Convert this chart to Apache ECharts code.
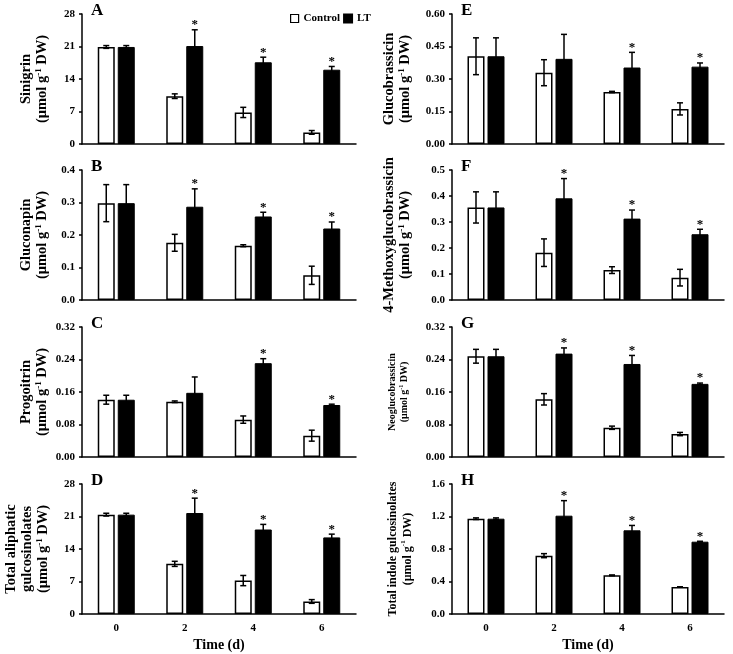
<!DOCTYPE html>
<html><head><meta charset="utf-8">
<script src="https://cdn.jsdelivr.net/npm/echarts@6/dist/echarts.min.js"></script>
<style>html,body{margin:0;padding:0;background:#fff}#c{width:733px;height:654px}</style>
</head><body><div id="c"></div>
<script>
// ---- data ----
const timeDays = ['0', '2', '4', '6'];
const seriesNames = ['Control', 'LT'];

const sinigrinControl = [20.9, 10.3, 6.8, 2.5];
const sinigrinControlErr = [0.3, 0.5, 1.1, 0.4];
const sinigrinLT = [20.9, 21.1, 17.6, 16.0];
const sinigrinLTErr = [0.3, 3.5, 1.1, 0.7];
const sinigrinSig = [0, 1, 1, 1];

const gluconapinControl = [0.298, 0.176, 0.167, 0.076];
const gluconapinControlErr = [0.057, 0.026, 0.003, 0.028];
const gluconapinLT = [0.298, 0.287, 0.257, 0.220];
const gluconapinLTErr = [0.057, 0.055, 0.013, 0.020];
const gluconapinSig = [0, 1, 1, 1];

const progoitrinControl = [0.141, 0.136, 0.092, 0.0525];
const progoitrinControlErr = [0.011, 0.002, 0.009, 0.0135];
const progoitrinLT = [0.141, 0.158, 0.231, 0.128];
const progoitrinLTErr = [0.011, 0.039, 0.011, 0.002];
const progoitrinSig = [0, 0, 1, 1];

const aliphaticControl = [21.4, 10.8, 7.2, 2.7];
const aliphaticControlErr = [0.3, 0.55, 1.1, 0.4];
const aliphaticLT = [21.4, 21.75, 18.2, 16.5];
const aliphaticLTErr = [0.3, 3.2, 1.1, 0.7];
const aliphaticSig = [0, 1, 1, 1];

const glucobrassicinControl = [0.405, 0.329, 0.240, 0.162];
const glucobrassicinControlErr = [0.085, 0.060, 0.003, 0.028];
const glucobrassicinLT = [0.405, 0.393, 0.353, 0.357];
const glucobrassicinLTErr = [0.085, 0.113, 0.070, 0.017];
const glucobrassicinSig = [0, 0, 1, 1];

const methoxyControl = [0.356, 0.182, 0.115, 0.086];
const methoxyControlErr = [0.060, 0.053, 0.013, 0.032];
const methoxyLT = [0.356, 0.391, 0.313, 0.253];
const methoxyLTErr = [0.060, 0.076, 0.033, 0.019];
const methoxySig = [0, 1, 1, 1];

const neoControl = [0.248, 0.142, 0.072, 0.0565];
const neoControlErr = [0.017, 0.014, 0.004, 0.004];
const neoLT = [0.248, 0.2545, 0.229, 0.180];
const neoLTErr = [0.017, 0.014, 0.021, 0.002];
const neoSig = [0, 1, 1, 1];

const indoleControl = [1.173, 0.718, 0.476, 0.332];
const indoleControlErr = [0.010, 0.025, 0.005, 0.003];
const indoleLT = [1.173, 1.210, 1.030, 0.890];
const indoleLTErr = [0.010, 0.185, 0.060, 0.005];
const indoleSig = [0, 1, 1, 1];

const unitLine = '(μmol g{sup|-1} DW)';

// ---- layout / style ----
const FONT = '"Liberation Serif","Times New Roman",serif';
const BAR_W = 17, BAR_GAP = 3;
const OFF = (BAR_W + BAR_GAP) / 2;
const rowTops = [14, 170, 327, 484];
const rowH = 130;
const colLeft = [82, 452];
const colW = [274, 272];

const panels = [
  {letter: 'A', title: 'Sinigrin\n' + unitLine, col: 0, row: 0, max: 28, interval: 7, dec: 0, gap: 32,
   ctrl: sinigrinControl, ctrlErr: sinigrinControlErr, lt: sinigrinLT, ltErr: sinigrinLTErr, sig: sinigrinSig},
  {letter: 'B', title: 'Gluconapin\n' + unitLine, col: 0, row: 1, max: 0.4, interval: 0.1, dec: 1, gap: 32,
   ctrl: gluconapinControl, ctrlErr: gluconapinControlErr, lt: gluconapinLT, ltErr: gluconapinLTErr, sig: gluconapinSig},
  {letter: 'C', title: 'Progoitrin\n' + unitLine, col: 0, row: 2, max: 0.32, interval: 0.08, dec: 2, gap: 32,
   ctrl: progoitrinControl, ctrlErr: progoitrinControlErr, lt: progoitrinLT, ltErr: progoitrinLTErr, sig: progoitrinSig},
  {letter: 'D', title: 'Total aliphatic\ngulcosinolates\n' + unitLine, col: 0, row: 3, max: 28, interval: 7, dec: 0, gap: 31,
   ctrl: aliphaticControl, ctrlErr: aliphaticControlErr, lt: aliphaticLT, ltErr: aliphaticLTErr, sig: aliphaticSig},
  {letter: 'E', title: 'Glucobrassicin\n' + unitLine, col: 1, row: 0, max: 0.6, interval: 0.15, dec: 2, gap: 39,
   ctrl: glucobrassicinControl, ctrlErr: glucobrassicinControlErr, lt: glucobrassicinLT, ltErr: glucobrassicinLTErr, sig: glucobrassicinSig},
  {letter: 'F', title: '4-Methoxyglucobrassicin\n' + unitLine, col: 1, row: 1, max: 0.5, interval: 0.1, dec: 1, gap: 39,
   ctrl: methoxyControl, ctrlErr: methoxyControlErr, lt: methoxyLT, ltErr: methoxyLTErr, sig: methoxySig},
  {letter: 'G', title: 'Neoglucobrassicin\n' + unitLine, col: 1, row: 2, max: 0.32, interval: 0.08, dec: 2, gap: 42, size: 10, lh: 12,
   ctrl: neoControl, ctrlErr: neoControlErr, lt: neoLT, ltErr: neoLTErr, sig: neoSig},
  {letter: 'H', title: 'Total indole gulcosinolates\n' + unitLine, col: 1, row: 3, max: 1.6, interval: 0.4, dec: 1, gap: 37, size: 12, lh: 15,
   ctrl: indoleControl, ctrlErr: indoleControlErr, lt: indoleLT, ltErr: indoleLTErr, sig: indoleSig}
];

function renderErr(params, api) {
  const k = api.value(0), m = api.value(1), e = api.value(2), s = api.value(3);
  const hi = api.coord([k, m + e]), lo = api.coord([k, m - e]);
  const x = hi[0] + s * OFF;
  const cap = 3;
  const st = {stroke: '#000', lineWidth: 1.5};
  return {type: 'group', children: [
    {type: 'line', shape: {x1: x, y1: hi[1], x2: x, y2: lo[1]}, style: st},
    {type: 'line', shape: {x1: x - cap, y1: hi[1], x2: x + cap, y2: hi[1]}, style: st},
    {type: 'line', shape: {x1: x - cap, y1: lo[1], x2: x + cap, y2: lo[1]}, style: st}
  ]};
}
function renderSig(params, api) {
  const p = api.coord([api.value(0), api.value(1)]);
  return {type: 'text', x: p[0] + OFF, y: p[1] - 5,
    style: {text: '*', font: 'bold 13px ' + FONT, fill: '#000', align: 'center', verticalAlign: 'middle'}};
}

const grid = [], xAxis = [], yAxis = [], series = [], graphic = [];
panels.forEach((p, i) => {
  const bottom = p.row === 3;
  const nameSize = p.size || 14.5;
  grid.push({left: colLeft[p.col], top: rowTops[p.row], width: colW[p.col], height: rowH});
  xAxis.push({
    gridIndex: i, type: 'category', data: timeDays, boundaryGap: true,
    axisLine: {lineStyle: {color: '#000', width: 1.5}},
    axisTick: {inside: true, length: 4, lineStyle: {color: '#000', width: 1.5}},
    axisLabel: {show: bottom, color: '#000', fontFamily: FONT, fontWeight: 'bold', fontSize: 11, margin: 9},
    name: bottom ? 'Time (d)' : '', nameLocation: 'middle', nameGap: 24,
    nameTextStyle: {color: '#000', fontFamily: FONT, fontWeight: 'bold', fontSize: 14}
  });
  yAxis.push({
    gridIndex: i, type: 'value', min: 0, max: p.max, interval: p.interval,
    axisLine: {show: true, lineStyle: {color: '#000', width: 1.5}},
    axisTick: {show: true, length: 3, lineStyle: {color: '#000', width: 1.5}},
    splitLine: {show: false},
    axisLabel: {color: '#000', fontFamily: FONT, fontWeight: 'bold', fontSize: 11, margin: 7,
      formatter: v => v.toFixed(p.dec)},
    name: p.title, nameLocation: 'middle', nameRotate: 90, nameGap: p.gap,
    nameTextStyle: {color: '#000', fontFamily: FONT, fontWeight: 'bold', fontSize: nameSize,
      lineHeight: p.lh || 16,
      rich: {sup: {color: '#000', fontFamily: FONT, fontWeight: 'bold', fontSize: Math.round(nameSize * 0.6), verticalAlign: 'top'}}}
  });
  series.push({type: 'bar', name: seriesNames[0], xAxisIndex: i, yAxisIndex: i, data: p.ctrl,
    barWidth: BAR_W, barGap: (BAR_GAP / BAR_W * 100) + '%',
    itemStyle: {color: '#fff', borderColor: '#000', borderWidth: 1.5}});
  series.push({type: 'bar', name: seriesNames[1], xAxisIndex: i, yAxisIndex: i, data: p.lt,
    barWidth: BAR_W, barGap: (BAR_GAP / BAR_W * 100) + '%',
    itemStyle: {color: '#000', borderColor: '#000', borderWidth: 1}});
  const errData = [];
  p.ctrl.forEach((v, k) => errData.push([k, v, p.ctrlErr[k], -1]));
  p.lt.forEach((v, k) => errData.push([k, v, p.ltErr[k], 1]));
  series.push({type: 'custom', xAxisIndex: i, yAxisIndex: i, data: errData, z: 5, silent: true,
    renderItem: renderErr, encode: {x: 0, y: 1}});
  const sigData = [];
  p.lt.forEach((v, k) => { if (p.sig[k]) sigData.push([k, v + p.ltErr[k]]); });
  series.push({type: 'custom', xAxisIndex: i, yAxisIndex: i, data: sigData, z: 5, silent: true,
    renderItem: renderSig, encode: {x: 0, y: 1}});
  graphic.push({type: 'text', left: colLeft[p.col] + 9, top: rowTops[p.row] - 12,
    style: {text: p.letter, font: 'bold 17px ' + FONT, fill: '#000'}});
});

const chart = echarts.init(document.getElementById('c'), null, {renderer: 'canvas'});
chart.setOption({
  animation: false,
  backgroundColor: '#fff',
  legend: {
    left: 285, top: 8, itemWidth: 8, itemHeight: 8, itemGap: 3, icon: 'rect',
    textStyle: {fontFamily: FONT, fontWeight: 'bold', fontSize: 11, color: '#000'},
    data: [
      {name: seriesNames[0], itemStyle: {color: '#fff', borderColor: '#000', borderWidth: 1.2}},
      {name: seriesNames[1], itemStyle: {color: '#000'}}
    ]
  },
  grid, xAxis, yAxis, series, graphic
});
</script></body></html>
